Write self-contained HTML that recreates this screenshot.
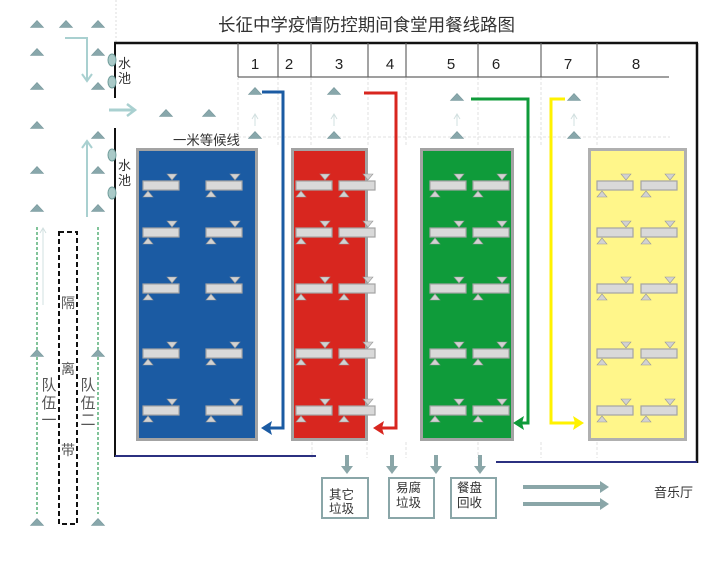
<!DOCTYPE html>
<html><head><meta charset="utf-8"><style>
html,body{margin:0;padding:0;background:#fff;}
svg{display:block;}
text{font-family:"Liberation Sans","Noto Sans CJK SC",sans-serif;}
</style></head><body>
<svg width="720" height="562" viewBox="0 0 720 562" xmlns="http://www.w3.org/2000/svg">
<defs>
<g id="tri"><polygon points="-6.5,3.5 0,-3.5 6.5,3.5" fill="#88a7ab" stroke="#7a9a9e" stroke-width="0.6"/></g>
<g id="tb">
<polygon points="24,-7 34,-7 29,-1" fill="#d2d2d2" stroke="#9a9a9a" stroke-width="0.6"/>
<rect x="0" y="0" width="36" height="9" fill="#d9d9d9" stroke="#a4a4a4" stroke-width="1.2"/>
<polygon points="0,16 10,16 5,10" fill="#d2d2d2" stroke="#9a9a9a" stroke-width="0.6"/>
</g>
</defs>

<!-- faint guide lines -->
<line x1="116" y1="0" x2="116" y2="43" stroke="#dcdcdc" stroke-width="1" stroke-dasharray="2 2"/>
<g stroke="#e2e2e2" stroke-width="1" stroke-dasharray="3 2">
<line x1="238" y1="77" x2="238" y2="145"/><line x1="278" y1="77" x2="278" y2="145"/>
<line x1="311" y1="77" x2="311" y2="145"/><line x1="368" y1="77" x2="368" y2="145"/>
<line x1="406" y1="77" x2="406" y2="145"/><line x1="478" y1="77" x2="478" y2="145"/>
<line x1="541" y1="77" x2="541" y2="145"/><line x1="597" y1="77" x2="597" y2="145"/>
<line x1="238" y1="137" x2="670" y2="137"/>
<line x1="312" y1="442" x2="312" y2="458"/><line x1="367" y1="442" x2="367" y2="458"/>
<line x1="406" y1="442" x2="406" y2="458"/><line x1="478" y1="442" x2="478" y2="458"/>
<line x1="541" y1="442" x2="541" y2="458"/><line x1="597" y1="442" x2="597" y2="458"/>
</g>

<!-- title -->
<text x="218" y="31" font-size="17.5" fill="#333" textLength="297" lengthAdjust="spacingAndGlyphs">长征中学疫情防控期间食堂用餐线路图</text>

<!-- main frame -->
<line x1="114" y1="43" x2="698" y2="43" stroke="#111" stroke-width="2.5"/>
<line x1="697" y1="43" x2="697" y2="463" stroke="#111" stroke-width="2.5"/>
<line x1="115" y1="43" x2="115" y2="98" stroke="#111" stroke-width="2"/>
<line x1="115" y1="128" x2="115" y2="457" stroke="#111" stroke-width="2"/>
<line x1="115" y1="456" x2="316" y2="456" stroke="#2b3080" stroke-width="2"/>
<line x1="496" y1="462" x2="697" y2="462" stroke="#2b3080" stroke-width="2"/>

<!-- header -->
<g stroke="#666" stroke-width="1.2">
<line x1="238" y1="43" x2="238" y2="77"/><line x1="278" y1="43" x2="278" y2="77"/>
<line x1="311" y1="43" x2="311" y2="77"/><line x1="368" y1="43" x2="368" y2="77"/>
<line x1="406" y1="43" x2="406" y2="77"/><line x1="478" y1="43" x2="478" y2="77"/>
<line x1="541" y1="43" x2="541" y2="77"/><line x1="597" y1="43" x2="597" y2="77"/>
<line x1="238" y1="77" x2="669" y2="77"/>
</g>
<g font-size="15" fill="#222" text-anchor="middle">
<text x="255" y="69">1</text><text x="289" y="69">2</text><text x="339" y="69">3</text>
<text x="390" y="69">4</text><text x="451" y="69">5</text><text x="496" y="69">6</text>
<text x="568" y="69">7</text><text x="636" y="69">8</text>
</g>

<!-- water pools -->
<g fill="#a9c9c7" stroke="#6f9c9a" stroke-width="1">
<ellipse cx="112" cy="60" rx="4" ry="6"/><ellipse cx="112" cy="82" rx="4" ry="6"/>
<ellipse cx="112" cy="155" rx="4" ry="6"/><ellipse cx="112" cy="193" rx="4" ry="6"/>
</g>
<g font-size="13" fill="#333">
<text x="118" y="68">水</text><text x="118" y="83">池</text>
<text x="118" y="170">水</text><text x="118" y="185">池</text>
</g>
<text x="173" y="145" font-size="13.4" fill="#333">一米等候线</text>

<!-- left arrows -->
<g stroke="#a9d0d0" fill="none">
<polyline points="65,38 87,38 87,80" stroke-width="2"/>
<polyline points="82,74 87,81 92,74" stroke-width="2"/>
<line x1="109" y1="110" x2="134" y2="110" stroke-width="3"/>
<polyline points="127,104 135,110 127,116" stroke-width="2.5"/>
<line x1="87" y1="217" x2="87" y2="142" stroke-width="2"/>
<polyline points="82,148 87,141 92,148" stroke-width="2"/>
</g>
<g stroke="#d2e0e0" fill="none" stroke-width="1">
<line x1="43" y1="305" x2="43" y2="229"/><polyline points="40,233 43,228 46,233"/>
<line x1="255" y1="126" x2="255" y2="115"/><polyline points="252,119 255,114 258,119"/>
<line x1="334" y1="126" x2="334" y2="115"/><polyline points="331,119 334,114 337,119"/>
<line x1="457" y1="126" x2="457" y2="115"/><polyline points="454,119 457,114 460,119"/>
<line x1="574" y1="126" x2="574" y2="115"/><polyline points="571,119 574,114 577,119"/>
</g>

<!-- queues -->
<g stroke="#3ea463" stroke-width="1.3" stroke-dasharray="3 2">
<line x1="37" y1="227" x2="37" y2="514"/><line x1="98" y1="227" x2="98" y2="514"/>
</g>
<rect x="59" y="232" width="18" height="292" fill="none" stroke="#111" stroke-width="2" stroke-dasharray="5 3"/>
<g font-size="14" fill="#555" text-anchor="middle">
<text x="68" y="308">隔</text><text x="68" y="374">离</text><text x="68" y="455">带</text>
</g>
<g font-size="15" fill="#555" text-anchor="middle">
<text x="49" y="390">队</text><text x="49" y="408">伍</text><text x="49" y="425">一</text>
<text x="88" y="390">队</text><text x="88" y="408">伍</text><text x="88" y="425">二</text>
</g>

<!-- triangles -->
<use href="#tri" x="37" y="24"/><use href="#tri" x="66" y="24"/><use href="#tri" x="98" y="24"/>
<use href="#tri" x="37" y="52"/><use href="#tri" x="98" y="52"/>
<use href="#tri" x="37" y="86"/><use href="#tri" x="98" y="86"/>
<use href="#tri" x="37" y="125"/><use href="#tri" x="98" y="135"/>
<use href="#tri" x="37" y="170"/><use href="#tri" x="98" y="170"/>
<use href="#tri" x="37" y="208"/><use href="#tri" x="98" y="208"/>
<use href="#tri" x="37" y="353"/><use href="#tri" x="98" y="353"/>
<use href="#tri" x="37" y="522"/><use href="#tri" x="98" y="522"/>
<use href="#tri" x="166" y="113"/><use href="#tri" x="209" y="113"/>
<use href="#tri" x="255" y="91"/><use href="#tri" x="255" y="135"/>
<use href="#tri" x="334" y="91"/><use href="#tri" x="334" y="135"/>
<use href="#tri" x="457" y="97"/><use href="#tri" x="457" y="135"/>
<use href="#tri" x="574" y="97"/><use href="#tri" x="574" y="135"/>

<!-- blocks -->
<rect x="137.5" y="149.5" width="119" height="290" fill="#1b5ba3" stroke="#a3a3a3" stroke-width="3"/>
<rect x="292.5" y="149.5" width="74" height="290" fill="#d8261f" stroke="#a3a3a3" stroke-width="3"/>
<rect x="421.5" y="149.5" width="91" height="290" fill="#0f9b3a" stroke="#a3a3a3" stroke-width="3"/>
<rect x="589.5" y="149.5" width="96" height="290" fill="#fff68a" stroke="#b0b0b0" stroke-width="3"/>

<!-- tables -->
<g>
<use href="#tb" x="143" y="181"/><use href="#tb" x="206" y="181"/>
<use href="#tb" x="143" y="228"/><use href="#tb" x="206" y="228"/>
<use href="#tb" x="143" y="284"/><use href="#tb" x="206" y="284"/>
<use href="#tb" x="143" y="349"/><use href="#tb" x="206" y="349"/>
<use href="#tb" x="143" y="406"/><use href="#tb" x="206" y="406"/>

<use href="#tb" x="296" y="181"/><use href="#tb" x="339" y="181"/>
<use href="#tb" x="296" y="228"/><use href="#tb" x="339" y="228"/>
<use href="#tb" x="296" y="284"/><use href="#tb" x="339" y="284"/>
<use href="#tb" x="296" y="349"/><use href="#tb" x="339" y="349"/>
<use href="#tb" x="296" y="406"/><use href="#tb" x="339" y="406"/>

<use href="#tb" x="430" y="181"/><use href="#tb" x="473" y="181"/>
<use href="#tb" x="430" y="228"/><use href="#tb" x="473" y="228"/>
<use href="#tb" x="430" y="284"/><use href="#tb" x="473" y="284"/>
<use href="#tb" x="430" y="349"/><use href="#tb" x="473" y="349"/>
<use href="#tb" x="430" y="406"/><use href="#tb" x="473" y="406"/>

<use href="#tb" x="597" y="181"/><use href="#tb" x="641" y="181"/>
<use href="#tb" x="597" y="228"/><use href="#tb" x="641" y="228"/>
<use href="#tb" x="597" y="284"/><use href="#tb" x="641" y="284"/>
<use href="#tb" x="597" y="349"/><use href="#tb" x="641" y="349"/>
<use href="#tb" x="597" y="406"/><use href="#tb" x="641" y="406"/>
</g>

<!-- routes -->
<polyline points="262,92 283,92 283,428 269,428" fill="none" stroke="#1b5ba3" stroke-width="3"/>
<polygon points="261,428 272,421 270,428 272,435" fill="#1b5ba3"/>
<polyline points="364,93 396,93 396,428 380,428" fill="none" stroke="#d8261f" stroke-width="3"/>
<polygon points="373,428 384,421 382,428 384,435" fill="#d8261f"/>
<polyline points="471,99 528,99 528,423 520,423" fill="none" stroke="#0f9b3a" stroke-width="3"/>
<polygon points="513,423 524,416 522,423 524,430" fill="#0f9b3a"/>
<polyline points="565,99 551,99 551,423 576,423" fill="none" stroke="#fff200" stroke-width="3"/>
<polygon points="584,423 573,416 575,423 573,430" fill="#fff200"/>

<!-- bottom arrows -->
<g fill="#8aa6a8">
<rect x="345" y="455" width="4" height="12"/><polygon points="341,466 353,466 347,474"/>
<rect x="390" y="455" width="4" height="12"/><polygon points="386,466 398,466 392,474"/>
<rect x="434" y="455" width="4" height="12"/><polygon points="430,466 442,466 436,474"/>
<rect x="478" y="455" width="4" height="12"/><polygon points="474,466 486,466 480,474"/>
<rect x="523" y="485" width="78" height="4"/><polygon points="600,481 609,487 600,493"/>
<rect x="523" y="502" width="78" height="4"/><polygon points="600,498 609,504 600,510"/>
</g>
<g fill="#fff" stroke="#8aa6a8" stroke-width="2">
<rect x="322" y="478" width="46" height="40"/>
<rect x="389" y="478" width="45" height="40"/>
<rect x="451" y="478" width="45" height="40"/>
</g>
<g font-size="12.5" fill="#333">
<text x="329" y="499">其它</text><text x="329" y="513">垃圾</text>
<text x="396" y="492">易腐</text><text x="396" y="507">垃圾</text>
<text x="457" y="492">餐盘</text><text x="457" y="507">回收</text>
</g>
<text x="654" y="497" font-size="13" fill="#333">音乐厅</text>
</svg>
</body></html>
